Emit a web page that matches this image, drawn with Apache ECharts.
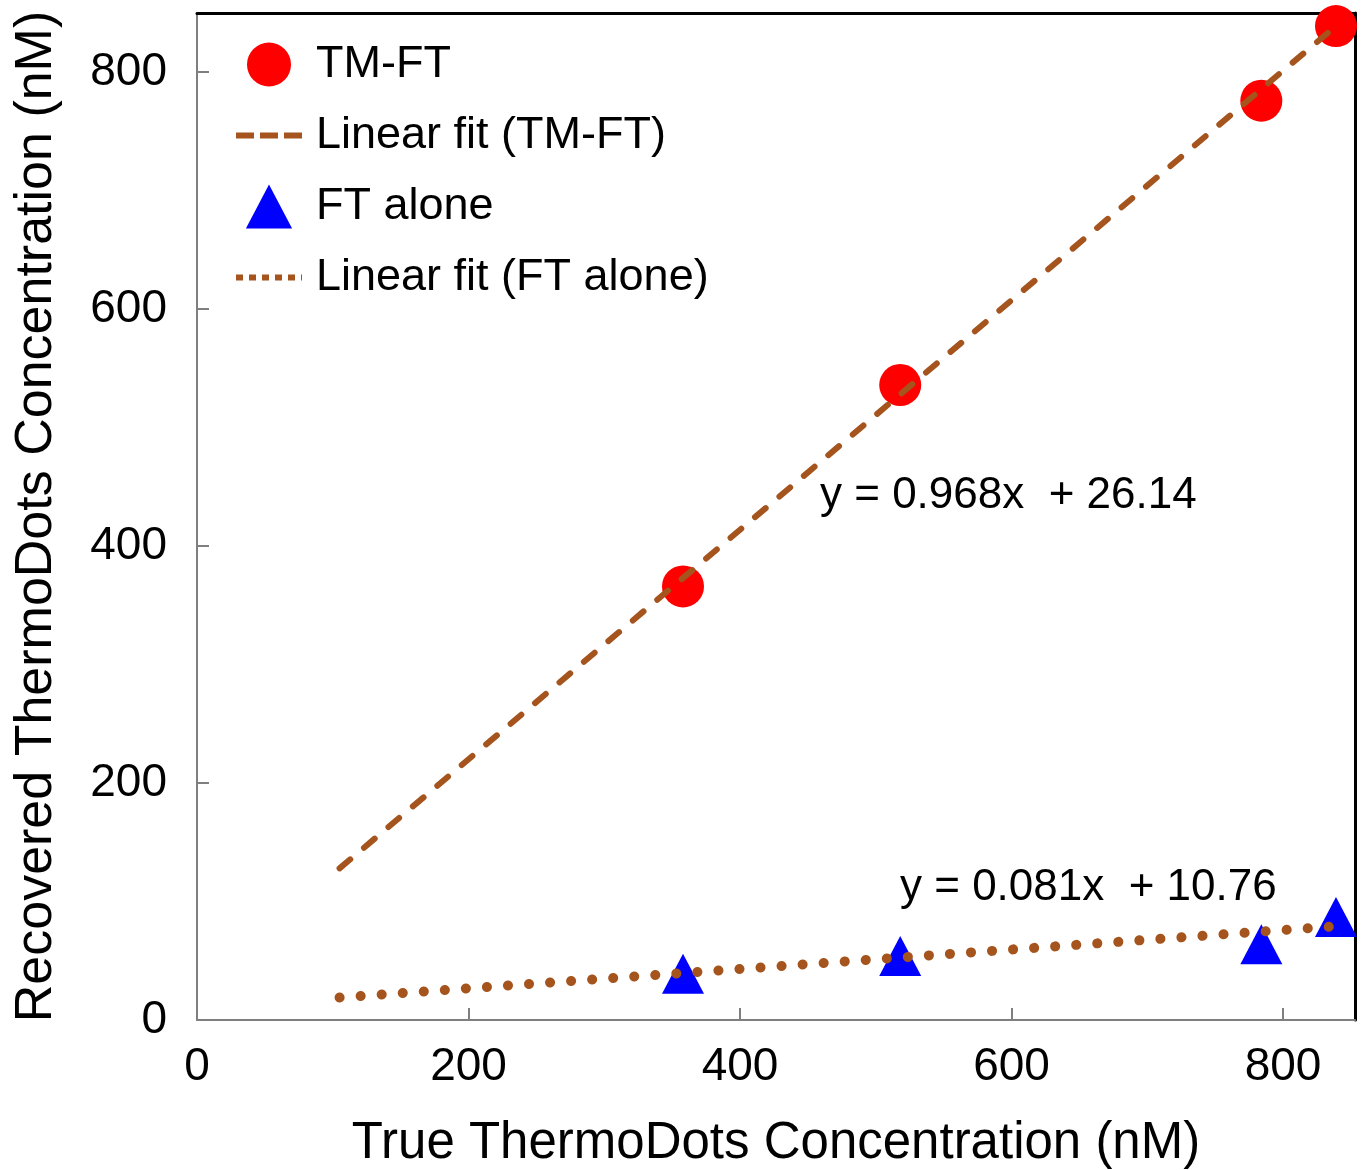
<!DOCTYPE html>
<html>
<head>
<meta charset="utf-8">
<title>Recovered vs true ThermoDots concentration</title>
<script src="https://cdn.jsdelivr.net/npm/echarts@6/dist/echarts.min.js"></script>
<style>
  html, body { margin: 0; padding: 0; background: #fff; }
  #chart { width: 1363px; height: 1170px; }
</style>
</head>
<body>
<div id="chart"></div>
<script>
// values (nM)
var tmftPoints = [[358, 366], [518, 536], [784, 776], [839, 839]];
var ftAlonePoints = [[358, 39], [518, 54], [784, 64], [839, 87]];
// end points of the drawn fit lines
var tmftFit = [[105, 128], [840, 840]];
var ftAloneFit = [[105, 19], [838, 79]];
var seriesNames = ['TM-FT', 'Linear fit (TM-FT)', 'FT alone', 'Linear fit (FT alone)'];
var fitLabels = ['y = 0.968x  + 26.14', 'y = 0.081x  + 10.76'];

var fontName = '"Liberation Sans", Arial, Helvetica, sans-serif';
var brown = '#a4541c';
var axisGray = '#7f7f7f';
var noSymbol = { opacity: 0, color: 'rgba(0,0,0,0)', borderWidth: 0 };

var chart = echarts.init(document.getElementById('chart'));
chart.setOption({
  backgroundColor: '#fff',
  textStyle: { fontFamily: fontName, color: '#000' },
  grid: { left: 197, right: 8, top: 13, bottom: 150, outerBoundsMode: 'none', containLabel: false },
  legend: {
    orient: 'vertical',
    left: 228,
    top: 37,
    itemWidth: 66,
    itemHeight: 44,
    itemGap: 26,
    symbolKeepAspect: true,
    textStyle: { fontSize: 45, color: '#000', fontFamily: fontName, padding: [0, 0, 0, 9] },
    data: [
      { name: seriesNames[0] },
      { name: seriesNames[1], itemStyle: noSymbol, lineStyle: { type: [18, 6], width: 6, cap: 'butt' } },
      { name: seriesNames[2], icon: 'path://M21,0 L42,40 L0,40 Z' },
      { name: seriesNames[3], itemStyle: noSymbol, lineStyle: { type: [7, 6], width: 6, cap: 'butt' } }
    ]
  },
  xAxis: [{
    type: 'value',
    min: 0,
    max: 853,
    interval: 200,
    name: 'True ThermoDots Concentration (nM)',
    nameLocation: 'middle',
    nameGap: 98,
    nameTextStyle: { fontSize: 51, color: '#000', fontFamily: fontName },
    axisLine: { onZero: false, lineStyle: { color: axisGray, width: 2 } },
    axisTick: { inside: true, length: 12, lineStyle: { color: axisGray, width: 2 } },
    axisLabel: { fontSize: 46, color: '#000', margin: 24, showMaxLabel: false },
    splitLine: { show: false }
  }, {
    type: 'value',
    position: 'top',
    min: 0,
    max: 853,
    axisLine: { show: true, onZero: false, lineStyle: { color: '#000', width: 3 } },
    axisTick: { show: false },
    axisLabel: { show: false },
    splitLine: { show: false }
  }],
  yAxis: [{
    type: 'value',
    min: 0,
    max: 850,
    interval: 200,
    name: 'Recovered ThermoDots Concentration (nM)',
    nameLocation: 'middle',
    nameGap: 134,
    nameTextStyle: { fontSize: 52, color: '#000', fontFamily: fontName },
    axisLine: { show: true, onZero: false, lineStyle: { color: axisGray, width: 2 } },
    axisTick: { show: true, inside: true, length: 12, lineStyle: { color: axisGray, width: 2 } },
    axisLabel: { fontSize: 46, color: '#000', margin: 30, showMaxLabel: false },
    splitLine: { show: false }
  }, {
    type: 'value',
    position: 'right',
    min: 0,
    max: 850,
    axisLine: { show: true, onZero: false, lineStyle: { color: '#000', width: 3 } },
    axisTick: { show: false },
    axisLabel: { show: false },
    splitLine: { show: false }
  }],
  series: [{
    name: seriesNames[0],
    type: 'scatter',
    symbol: 'circle',
    symbolSize: 42,
    itemStyle: { color: '#ff0000', opacity: 1 },
    z: 2,
    data: tmftPoints
  }, {
    name: seriesNames[1],
    type: 'line',
    symbol: 'none',
    lineStyle: { color: brown, width: 6, type: [14, 18], cap: 'round' },
    itemStyle: { color: brown },
    z: 3,
    data: tmftFit
  }, {
    name: seriesNames[2],
    type: 'scatter',
    symbol: 'triangle',
    symbolSize: [42, 40],
    itemStyle: { color: '#0000ff', opacity: 1 },
    z: 2,
    data: ftAlonePoints
  }, {
    name: seriesNames[3],
    type: 'line',
    symbol: 'none',
    lineStyle: { color: brown, width: 10, type: [0.1, 21], cap: 'round' },
    itemStyle: { color: brown },
    z: 3,
    data: ftAloneFit
  }],
  graphic: [{
    type: 'text',
    left: 820,
    top: 474,
    style: { text: fitLabels[0], fontSize: 44, fill: '#000', fontFamily: fontName }
  }, {
    type: 'text',
    left: 900,
    top: 866,
    style: { text: fitLabels[1], fontSize: 44, fill: '#000', fontFamily: fontName }
  }]
});
</script>
</body>
</html>
